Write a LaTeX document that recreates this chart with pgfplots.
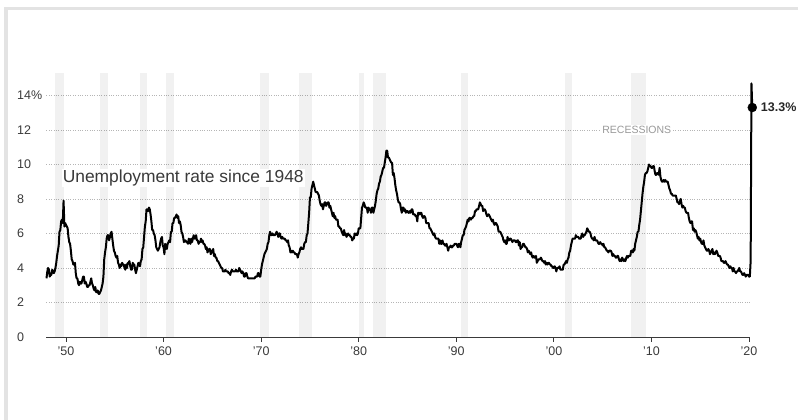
\documentclass[border=0pt]{standalone}
\usepackage{fontspec}
\setmainfont{Liberation Sans}
\usepackage{pgfplots}
\pgfplotsset{compat=1.18}
\usepackage{pgfplotstable}
\definecolor{gridc}{HTML}{B5B5B5}
\definecolor{txt}{HTML}{3A3A3A}
\definecolor{framec}{HTML}{E3E3E3}

% monthly unemployment rate, Jan 1948 - May 2020
\pgfplotstableread[row sep=\\, header=false]{
3.4\\3.8\\4.0\\3.9\\3.5\\3.6\\3.6\\3.9\\3.8\\3.7\\3.8\\4.0\\
4.3\\4.7\\5.0\\5.3\\6.1\\6.2\\6.7\\6.8\\6.6\\7.9\\6.4\\6.6\\
6.5\\6.4\\6.3\\5.8\\5.5\\5.4\\5.0\\4.5\\4.4\\4.2\\4.2\\4.3\\
3.7\\3.4\\3.4\\3.1\\3.0\\3.2\\3.1\\3.1\\3.3\\3.5\\3.5\\3.1\\
3.2\\3.1\\2.9\\2.9\\3.0\\3.0\\3.2\\3.4\\3.1\\3.0\\2.8\\2.7\\
2.9\\2.6\\2.6\\2.7\\2.5\\2.5\\2.6\\2.7\\2.9\\3.1\\3.5\\4.5\\
4.9\\5.2\\5.7\\5.9\\5.9\\5.6\\5.8\\6.0\\6.1\\5.7\\5.3\\5.0\\
4.9\\4.7\\4.6\\4.7\\4.3\\4.2\\4.0\\4.2\\4.1\\4.3\\4.2\\4.2\\
4.0\\3.9\\4.2\\4.0\\4.3\\4.3\\4.4\\4.1\\3.9\\3.9\\4.3\\4.2\\
4.2\\3.9\\3.7\\3.9\\4.1\\4.3\\4.2\\4.1\\4.4\\4.5\\5.1\\5.2\\
5.8\\6.4\\6.7\\7.4\\7.4\\7.3\\7.5\\7.4\\7.1\\6.7\\6.2\\6.2\\
6.0\\5.9\\5.6\\5.2\\5.1\\5.0\\5.1\\5.2\\5.5\\5.7\\5.8\\5.3\\
5.2\\4.8\\5.4\\5.2\\5.1\\5.4\\5.5\\5.6\\5.5\\6.1\\6.1\\6.6\\
6.6\\6.9\\6.9\\7.0\\7.1\\6.9\\7.0\\6.6\\6.7\\6.5\\6.1\\6.0\\
5.8\\5.5\\5.6\\5.6\\5.5\\5.5\\5.4\\5.7\\5.6\\5.4\\5.7\\5.5\\
5.7\\5.9\\5.7\\5.7\\5.9\\5.6\\5.6\\5.4\\5.5\\5.5\\5.7\\5.5\\
5.6\\5.4\\5.4\\5.3\\5.1\\5.2\\4.9\\5.0\\5.1\\5.1\\4.8\\5.0\\
4.9\\5.1\\4.7\\4.8\\4.6\\4.6\\4.4\\4.4\\4.3\\4.2\\4.1\\4.0\\
4.0\\3.8\\3.8\\3.8\\3.9\\3.8\\3.8\\3.8\\3.7\\3.7\\3.6\\3.8\\
3.9\\3.8\\3.8\\3.8\\3.8\\3.9\\3.8\\3.8\\3.8\\4.0\\3.9\\3.8\\
3.7\\3.8\\3.7\\3.5\\3.5\\3.7\\3.7\\3.5\\3.4\\3.4\\3.4\\3.4\\
3.4\\3.4\\3.4\\3.4\\3.4\\3.5\\3.5\\3.5\\3.7\\3.7\\3.5\\3.5\\
3.9\\4.2\\4.4\\4.6\\4.8\\4.9\\5.0\\5.1\\5.4\\5.5\\5.9\\6.1\\
5.9\\5.9\\6.0\\5.9\\5.9\\5.9\\6.0\\6.1\\6.0\\5.8\\6.0\\6.0\\
5.8\\5.7\\5.8\\5.7\\5.7\\5.7\\5.6\\5.6\\5.5\\5.6\\5.3\\5.2\\
4.9\\5.0\\4.9\\5.0\\4.9\\4.9\\4.8\\4.8\\4.8\\4.6\\4.8\\4.9\\
5.1\\5.2\\5.1\\5.1\\5.1\\5.4\\5.5\\5.5\\5.9\\6.0\\6.6\\7.2\\
8.1\\8.1\\8.6\\8.8\\9.0\\8.8\\8.6\\8.4\\8.4\\8.4\\8.3\\8.2\\
7.9\\7.7\\7.6\\7.7\\7.4\\7.6\\7.8\\7.8\\7.6\\7.7\\7.8\\7.8\\
7.5\\7.6\\7.4\\7.2\\7.0\\7.2\\6.9\\7.0\\6.8\\6.8\\6.8\\6.4\\
6.4\\6.3\\6.3\\6.1\\6.0\\5.9\\6.2\\5.9\\6.0\\5.8\\5.9\\6.0\\
5.9\\5.9\\5.8\\5.8\\5.6\\5.7\\5.7\\6.0\\5.9\\6.0\\5.9\\6.0\\
6.3\\6.3\\6.3\\6.9\\7.5\\7.6\\7.8\\7.7\\7.5\\7.5\\7.5\\7.2\\
7.5\\7.4\\7.4\\7.2\\7.5\\7.5\\7.2\\7.4\\7.6\\7.9\\8.3\\8.5\\
8.6\\8.9\\9.0\\9.3\\9.4\\9.6\\9.8\\9.8\\10.1\\10.4\\10.8\\10.8\\
10.4\\10.4\\10.3\\10.2\\10.1\\10.1\\9.4\\9.5\\9.2\\8.8\\8.5\\8.3\\
8.0\\7.8\\7.8\\7.7\\7.4\\7.2\\7.5\\7.5\\7.3\\7.4\\7.2\\7.3\\
7.3\\7.2\\7.2\\7.3\\7.2\\7.4\\7.4\\7.1\\7.1\\7.1\\7.0\\7.0\\
6.7\\7.2\\7.2\\7.1\\7.2\\7.2\\7.0\\6.9\\7.0\\7.0\\6.9\\6.6\\
6.6\\6.6\\6.6\\6.3\\6.3\\6.2\\6.1\\6.0\\5.9\\6.0\\5.8\\5.7\\
5.7\\5.7\\5.7\\5.4\\5.6\\5.4\\5.4\\5.6\\5.4\\5.4\\5.3\\5.3\\
5.4\\5.2\\5.0\\5.2\\5.2\\5.3\\5.2\\5.2\\5.3\\5.3\\5.4\\5.4\\
5.4\\5.3\\5.2\\5.4\\5.4\\5.2\\5.5\\5.7\\5.9\\5.9\\6.2\\6.3\\
6.4\\6.6\\6.8\\6.7\\6.9\\6.9\\6.8\\6.9\\6.9\\7.0\\7.0\\7.3\\
7.3\\7.4\\7.4\\7.4\\7.6\\7.8\\7.7\\7.6\\7.6\\7.3\\7.4\\7.4\\
7.3\\7.1\\7.0\\7.1\\7.1\\7.0\\6.9\\6.8\\6.7\\6.8\\6.6\\6.5\\
6.6\\6.6\\6.5\\6.4\\6.1\\6.1\\6.1\\6.0\\5.9\\5.8\\5.6\\5.5\\
5.6\\5.4\\5.4\\5.8\\5.6\\5.6\\5.7\\5.7\\5.6\\5.5\\5.6\\5.6\\
5.6\\5.5\\5.5\\5.6\\5.6\\5.3\\5.5\\5.1\\5.2\\5.2\\5.4\\5.4\\
5.3\\5.2\\5.2\\5.1\\4.9\\5.0\\4.9\\4.8\\4.9\\4.7\\4.6\\4.7\\
4.6\\4.6\\4.7\\4.3\\4.4\\4.5\\4.5\\4.5\\4.6\\4.5\\4.4\\4.4\\
4.3\\4.4\\4.2\\4.3\\4.2\\4.3\\4.3\\4.2\\4.2\\4.1\\4.1\\4.0\\
4.0\\4.1\\4.0\\3.8\\4.0\\4.0\\4.0\\4.1\\3.9\\3.9\\3.9\\3.9\\
4.2\\4.2\\4.3\\4.4\\4.3\\4.5\\4.6\\4.9\\5.0\\5.3\\5.5\\5.7\\
5.7\\5.7\\5.7\\5.9\\5.8\\5.8\\5.8\\5.7\\5.7\\5.7\\5.9\\6.0\\
5.8\\5.9\\5.9\\6.0\\6.1\\6.3\\6.2\\6.1\\6.1\\6.0\\5.8\\5.7\\
5.7\\5.6\\5.8\\5.6\\5.6\\5.6\\5.5\\5.4\\5.4\\5.5\\5.4\\5.4\\
5.3\\5.4\\5.2\\5.2\\5.1\\5.0\\5.0\\4.9\\5.0\\5.0\\5.0\\4.9\\
4.7\\4.8\\4.7\\4.7\\4.6\\4.6\\4.7\\4.7\\4.5\\4.4\\4.5\\4.4\\
4.6\\4.5\\4.4\\4.5\\4.4\\4.6\\4.7\\4.6\\4.7\\4.7\\4.7\\5.0\\
5.0\\4.9\\5.1\\5.0\\5.4\\5.6\\5.8\\6.1\\6.1\\6.5\\6.8\\7.3\\
7.8\\8.3\\8.7\\9.0\\9.4\\9.5\\9.5\\9.6\\9.8\\10.0\\9.9\\9.9\\
9.8\\9.8\\9.9\\9.9\\9.6\\9.4\\9.4\\9.5\\9.5\\9.4\\9.8\\9.3\\
9.1\\9.0\\9.0\\9.1\\9.0\\9.1\\9.0\\9.0\\9.0\\8.8\\8.6\\8.5\\
8.3\\8.3\\8.2\\8.2\\8.2\\8.2\\8.2\\8.0\\7.8\\7.8\\7.7\\7.9\\
8.0\\7.7\\7.5\\7.6\\7.5\\7.5\\7.3\\7.2\\7.2\\7.2\\6.9\\6.7\\
6.6\\6.7\\6.7\\6.2\\6.3\\6.1\\6.2\\6.1\\5.9\\5.7\\5.8\\5.6\\
5.7\\5.5\\5.4\\5.4\\5.6\\5.3\\5.2\\5.1\\5.0\\5.0\\5.1\\5.0\\
4.8\\4.9\\5.0\\5.1\\4.8\\4.9\\4.8\\4.9\\5.0\\4.9\\4.7\\4.7\\
4.7\\4.6\\4.4\\4.4\\4.4\\4.3\\4.3\\4.4\\4.3\\4.2\\4.2\\4.1\\
4.0\\4.1\\4.0\\4.0\\3.8\\4.0\\3.8\\3.8\\3.7\\3.8\\3.8\\3.9\\
4.0\\3.8\\3.8\\3.7\\3.6\\3.6\\3.7\\3.6\\3.5\\3.6\\3.6\\3.6\\
3.5\\3.5\\4.4\\14.7\\13.3\\
}\unrate

\begin{document}
\begin{tikzpicture}
\fill[framec] (4bp,0bp) rectangle (7.5bp,413bp);
\fill[framec] (4bp,409.5bp) rectangle (798bp,413bp);
\begin{axis}[
  at={(46.5bp,83bp)}, anchor=south west,
  scale only axis, width=703.5bp, height=264bp,
  xmin=1948, xmax=2020.1, ymin=0, ymax=15.3,
  clip=false,
  axis x line*=bottom, axis y line*=left,
  y axis line style={draw=none},
  x axis line style={draw=txt, line width=0.9bp, -},
  xtick={1950,1960,...,2020},
  xticklabels={’50,’60,’70,’80,’90,’00,’10,’20},
  ytick={0,2,...,14},
  yticklabels={0,2,4,6,8,10,12,14\%},
  ymajorgrids,
  grid style={gridc, dotted, line width=0.7bp},
  tick align=outside,
  major tick length=5bp,
  ytick style={draw=none},
  xtick style={draw=txt, line width=0.8bp},
  /pgf/number format/assume math mode=true,
  ticklabel style={font=\fontsize{12.5bp}{14bp}\selectfont, text=txt},
  yticklabel style={anchor=west, inner sep=0pt, xshift=-24.5bp},
  xticklabel style={anchor=north, inner sep=0pt, yshift=-5bp},
]
% recession bands
\addplot[fill=black, fill opacity=0.055, draw=none] coordinates {(1948.83,0) (1948.83,15.3) (1949.75,15.3) (1949.75,0)} -- cycle;
\addplot[fill=black, fill opacity=0.055, draw=none] coordinates {(1953.5,0) (1953.5,15.3) (1954.33,15.3) (1954.33,0)} -- cycle;
\addplot[fill=black, fill opacity=0.055, draw=none] coordinates {(1957.58,0) (1957.58,15.3) (1958.3,15.3) (1958.3,0)} -- cycle;
\addplot[fill=black, fill opacity=0.055, draw=none] coordinates {(1960.25,0) (1960.25,15.3) (1961.08,15.3) (1961.08,0)} -- cycle;
\addplot[fill=black, fill opacity=0.055, draw=none] coordinates {(1969.92,0) (1969.92,15.3) (1970.83,15.3) (1970.83,0)} -- cycle;
\addplot[fill=black, fill opacity=0.055, draw=none] coordinates {(1973.83,0) (1973.83,15.3) (1975.17,15.3) (1975.17,0)} -- cycle;
\addplot[fill=black, fill opacity=0.055, draw=none] coordinates {(1980.0,0) (1980.0,15.3) (1980.5,15.3) (1980.5,0)} -- cycle;
\addplot[fill=black, fill opacity=0.055, draw=none] coordinates {(1981.5,0) (1981.5,15.3) (1982.83,15.3) (1982.83,0)} -- cycle;
\addplot[fill=black, fill opacity=0.055, draw=none] coordinates {(1990.5,0) (1990.5,15.3) (1991.17,15.3) (1991.17,0)} -- cycle;
\addplot[fill=black, fill opacity=0.055, draw=none] coordinates {(2001.17,0) (2001.17,15.3) (2001.83,15.3) (2001.83,0)} -- cycle;
\addplot[fill=black, fill opacity=0.055, draw=none] coordinates {(2007.92,0) (2007.92,15.3) (2009.42,15.3) (2009.42,0)} -- cycle;

\addplot[black, line width=2bp, line join=round] table[x expr=1948+\coordindex/12, y index=0] {\unrate};
\addplot[only marks, mark=*, mark size=4.5bp, black] coordinates {(2020.333,13.3)};

\node[anchor=west, font=\fontsize{17.4bp}{19bp}\selectfont, text=txt, fill=white, inner sep=1bp] at (axis cs:1949.55,9.2) {Unemployment rate since 1948};
\node[font=\fontsize{10.5bp}{12bp}\selectfont, text=gray!80, fill=white, inner sep=1.5bp] at (axis cs:2008.5,12) {RECESSIONS};
\node[anchor=west, font=\bfseries\fontsize{12.5bp}{14bp}\selectfont, text=black!85, inner sep=0pt] at (axis cs:2021.2,13.3) {13.3\%};
\end{axis}
\pgfresetboundingbox
\useasboundingbox (0bp,0bp) rectangle (798bp,420bp);
\end{tikzpicture}
\end{document}
